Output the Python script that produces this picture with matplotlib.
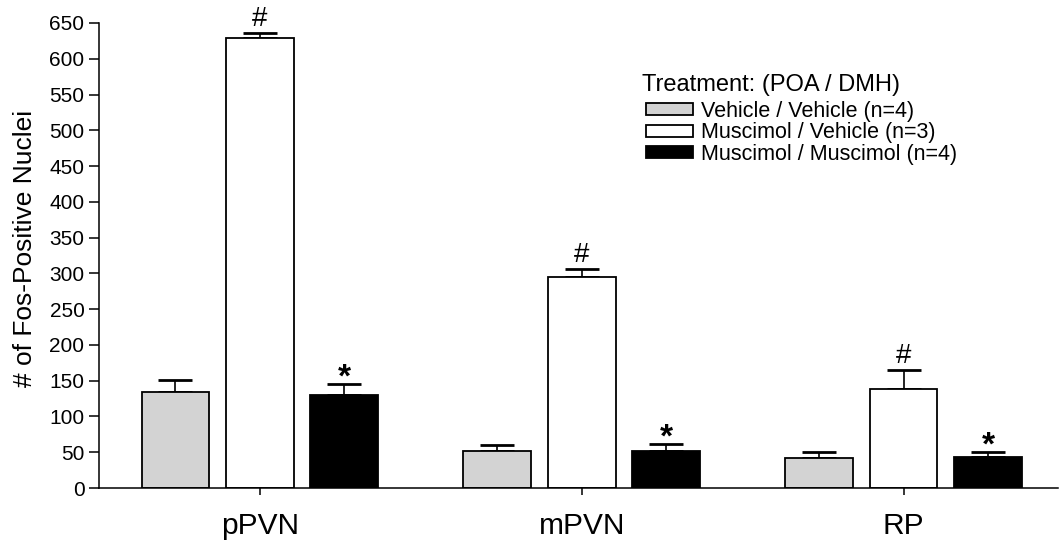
import matplotlib
matplotlib.use("Agg")
import matplotlib.pyplot as plt
import numpy as np

plt.rcParams['font.family'] = ['Liberation Sans', 'DejaVu Sans']

regions = ['pPVN', 'mPVN', 'RP']
treatments = ['Vehicle / Vehicle (n=4)',
              'Muscimol / Vehicle (n=3)',
              'Muscimol / Muscimol (n=4)']
means = {
    'veh_veh': [134, 52, 41.5],
    'mus_veh': [629, 295, 139],
    'mus_mus': [130, 52, 43],
}
sems = {
    'veh_veh': [17, 8, 9],
    'mus_veh': [7, 11, 26],
    'mus_mus': [16, 10, 8],
}
marks = {'veh_veh': '', 'mus_veh': '#', 'mus_mus': '*'}
colors = {'veh_veh': '#d3d3d3', 'mus_veh': '#ffffff', 'mus_mus': '#000000'}
y_ticks = list(range(0, 651, 50))

fig = plt.figure(figsize=(10.6, 5.44), dpi=100)
W, H = 1060, 544
ax = fig.add_axes([99 / W, (H - 488) / H, (1058 - 99) / W, (488 - 23) / H])

x = np.arange(len(regions))
width = 0.211
offset = 0.2624
keys = ['veh_veh', 'mus_veh', 'mus_mus']

for i, (key, label) in enumerate(zip(keys, treatments)):
    xs = x + (i - 1) * offset
    m = np.array(means[key])
    e = np.array(sems[key])
    ax.errorbar(xs, m, yerr=[np.zeros_like(e), e], fmt='none', ecolor='black',
                elinewidth=1.2, capsize=12.5, capthick=2.0, zorder=1)
    ax.bar(xs, m, width=width, color=colors[key], edgecolor='black',
           linewidth=1.3, label=label, zorder=2)
    for xi, mi, ei in zip(xs, m, e):
        if marks[key] == '#':
            ax.annotate('#', (xi, mi + ei), xytext=(0, 1), textcoords='offset points',
                        ha='center', va='bottom', fontsize=20)
        elif marks[key] == '*':
            ax.annotate('*', (xi, mi + ei), xytext=(0, -7), textcoords='offset points',
                        ha='center', va='bottom', fontsize=24, fontweight='bold')

ax.set_xlim(-0.5, 2.48)
ax.set_ylim(0, 650)
ax.set_yticks(y_ticks)
ax.set_xticks(x)
ax.set_xticklabels(regions, fontsize=21.5)
ax.tick_params(axis='y', labelsize=15, length=7.5, width=1.1, pad=3)
ax.tick_params(axis='x', length=5, width=1.1, pad=12)
for side in ['top', 'right']:
    ax.spines[side].set_visible(False)
for side in ['left', 'bottom']:
    ax.spines[side].set_linewidth(1.1)

ax.set_ylabel('# of Fos-Positive Nuclei', fontsize=19)
ax.yaxis.set_label_coords(-0.065, 0.516)

# legend: title drawn as its own text line, entries below it
fig.text(642 / W, 1 - 85 / H, 'Treatment: (POA / DMH)', fontsize=17,
         ha='left', va='center')
ax.legend(loc='upper left', bbox_to_anchor=(646 / W, 1 - 101 / H),
          bbox_transform=fig.transFigure, frameon=False, fontsize=15.5,
          handlelength=2.2, handleheight=0.5, handletextpad=0.35,
          labelspacing=0.02, borderpad=0, borderaxespad=0)

fig.savefig('out.png', dpi=100)
